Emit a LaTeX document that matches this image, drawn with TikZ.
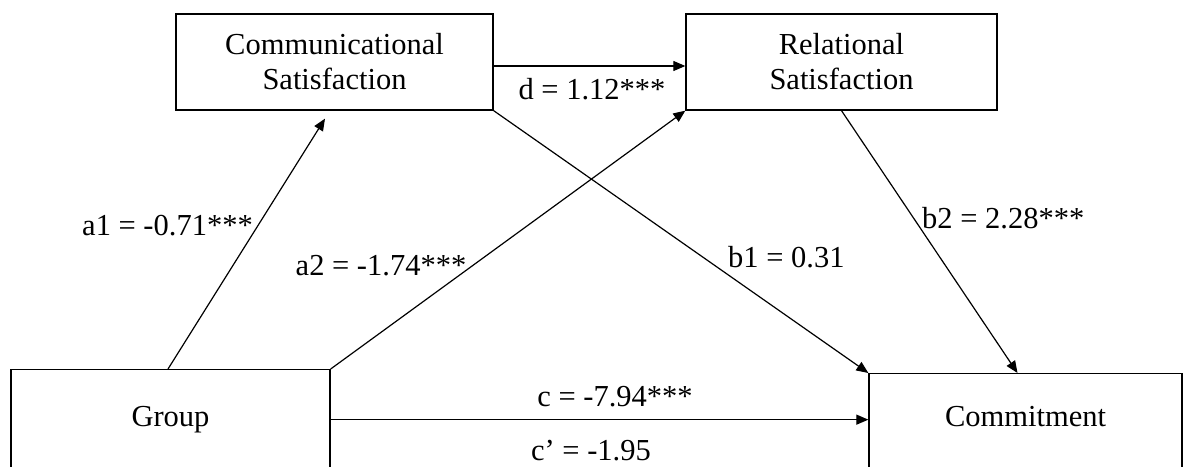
\documentclass[tikz,border=0pt]{standalone}
\usepackage{fontspec}
\setmainfont{Liberation Serif}
\usetikzlibrary{arrows.meta}
\tikzset{
  box/.style={draw,line width=1.3pt,align=center,inner sep=0pt,
    font=\fontsize{30.5}{35}\selectfont},
  lbl/.style={font=\fontsize{30.5}{35}\selectfont,inner sep=0pt},
  path/.style={line width=1.2pt,-{Triangle[length=12pt,width=10pt]}}
}
\begin{document}
\begin{tikzpicture}[x=1pt,y=-1pt]
            \useasboundingbox (0,0) rectangle (1183,466);
            \def\gap{-4pt}
            % boxes
            \node[box,minimum width=317pt,minimum height=96pt]
                (comm) at (334.5,62) {Communicational\\Satisfaction};
            \node[box,minimum width=311pt,minimum height=96pt]
                (rel) at (841.5,62) {Relational\\Satisfaction};
            \node[box,minimum width=319pt,minimum height=100pt,
                text height=21pt,text depth=7pt,anchor=north]
                (group) at (170.5,369) {Group};
            \node[box,minimum width=313pt,minimum height=96pt,
                text height=21pt,text depth=11pt,anchor=north]
                (commit) at (1025.5,373) {Commitment};
            % paths
            \draw[path] ([xshift=-2.5pt]group.north)
                --([xshift=-9.5pt,yshift=-8pt]comm.south);
            \draw[path] (group.north east)--(rel.south west);
            \draw[path] ([yshift=\gap]comm.east)--([yshift=\gap]rel.west);
            \draw[path] (comm.south east)--(commit.north west);
            \draw[path] (rel.south)--([xshift=-8pt]commit.north);
            \draw[path] (group.east)--(group.east -| commit.west);
            % coefficients
            \node[lbl,anchor=base] (la1) at (167.5,235) {a1 = -0.71***};
            \node[lbl,anchor=base] (la2) at (381,275) {a2 = -1.74***};
            \node[lbl,anchor=base] (ld) at (592,99) {d = 1.12***};
            \node[lbl,anchor=base west] (lb1) at (728,267) {b1 = 0.31};
            \node[lbl,anchor=base west] (lb2) at (922,228) {b2 = 2.28***};
            \node[lbl,anchor=base] (lc) at (615,406) {c = -7.94***};
            \node[lbl,anchor=base] (lcp) at (591,460) {c’ = -1.95};
            \end{tikzpicture}
\end{document}
